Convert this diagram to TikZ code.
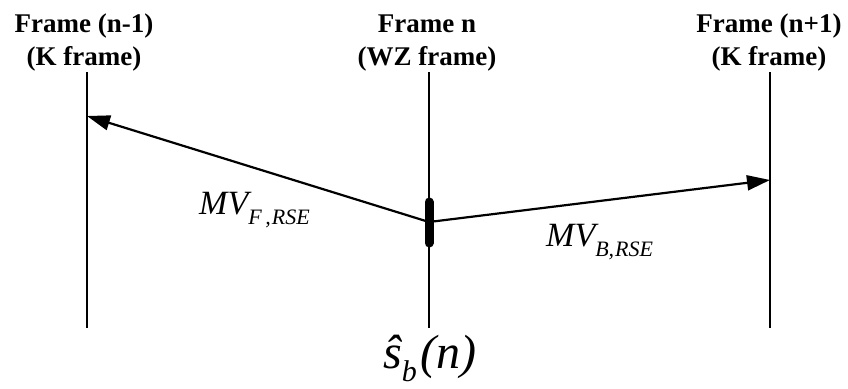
\documentclass[tikz,border=0pt]{standalone}
\usepackage{fontspec}
\setmainfont{Liberation Serif}
\usetikzlibrary{arrows.meta}
\begin{document}
\begin{tikzpicture}[x=1pt,y=-1pt,
  title/.style={font=\fontsize{27}{33}\selectfont\bfseries, align=center, inner sep=0pt, anchor=base},
  frameline/.style={line width=1.7pt},
  mvarrow/.style={line width=2.2pt, -{Triangle[length=23pt,width=15pt]}},
  blockbar/.style={line width=9pt, line cap=round},
  lbl/.style={inner sep=0pt, anchor=base west}]
\useasboundingbox (0,0) rectangle (848,388);
% frame time lines
\coordinate (Ltop) at (87,72);   \coordinate (Lbot) at (87,328);
\coordinate (Mtop) at (429,72);  \coordinate (Mbot) at (429,328);
\coordinate (Rtop) at (770,72);  \coordinate (Rbot) at (770,328);
\draw[frameline] (Ltop) -- (Lbot);
\draw[frameline] (Mtop) -- (Mbot);
\draw[frameline] (Rtop) -- (Rbot);
% titles
\node[title] (tl) at (84,65) {Frame (n-1)\\(K frame)};
\node[title] (tm) at (427,65) {Frame n\\(WZ frame)};
\node[title] (tr) at (769,65) {Frame (n+1)\\(K frame)};
% block
\coordinate (bartop) at (429,202);
\coordinate (barbot) at (429,243);
\draw[blockbar] (bartop) -- (barbot);
% motion vectors
\coordinate (src) at (429,222);
\coordinate (Lend) at (87,116);
\coordinate (Rend) at (770,180);
\draw[mvarrow] (src) -- (Lend);
\draw[mvarrow] (src) -- (Rend);
% labels
\node[lbl] (mvf) at (199,214) {\fontsize{34}{34}\selectfont\itshape MV\raisebox{-10pt}{\fontsize{22}{22}\selectfont\itshape F\,,\kern1pt RSE}};
\node[lbl] (mvb) at (546,246) {\fontsize{34}{34}\selectfont\itshape MV\raisebox{-10pt}{\fontsize{22}{22}\selectfont\itshape B,\kern1pt RSE}};
\node[lbl] (sb) at (383,368) {\fontsize{48}{48}\selectfont\itshape ŝ\raisebox{-13pt}{\fontsize{30}{30}\selectfont b}\kern4pt(n)};
\end{tikzpicture}
\end{document}
